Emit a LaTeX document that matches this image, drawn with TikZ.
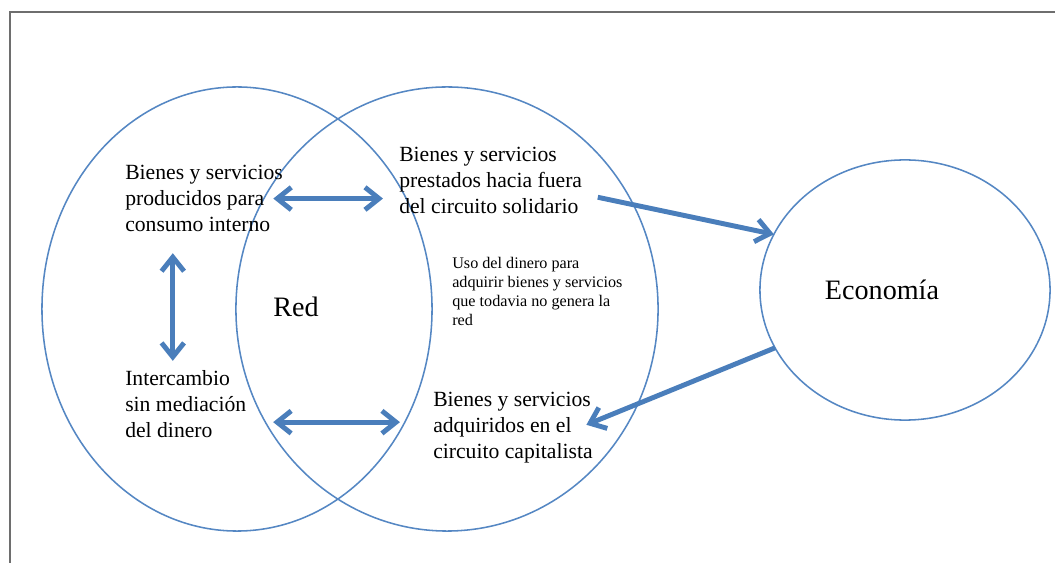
\documentclass[tikz,border=0pt]{standalone}
\usepackage{fontspec}
\setmainfont{Liberation Serif}
\usetikzlibrary{shapes.geometric,arrows.meta}

\definecolor{azul}{RGB}{85,135,195}
\definecolor{azulflecha}{RGB}{74,126,187}
\definecolor{marco}{RGB}{110,110,110}

\tikzstyle{circulo}=[ellipse,draw=azul,line width=1.1pt,inner sep=0pt,outer sep=0pt]
\tikzstyle{texto}=[align=left,anchor=north west,inner sep=0pt,font=\fontsize{15.4}{18.5}\selectfont]
\tikzstyle{textochico}=[align=left,anchor=north west,inner sep=0pt,font=\fontsize{11.5}{13.5}\selectfont]
\tikzstyle{grande}=[inner sep=0pt,font=\fontsize{20}{24}\selectfont]
\tikzstyle{flecha}=[draw=azulflecha,line width=3.5pt,>={Straight Barb[length=10pt,width=16pt]}]

\begin{document}
\begin{tikzpicture}[x=0.025cm,y=-0.025cm]
                  \useasboundingbox (0,0) rectangle (1055,563);
                  % frame, only top and left edges show
                  \draw[marco,line width=2pt] (10,563) -- (10,12) -- (1055,12);
                  % the three circles
                  \node[circulo,minimum width=277.4pt,minimum height=315.8pt] (izq) at (237,309) {};
                  \node[circulo,minimum width=300.2pt,minimum height=315.8pt] (centro) at (447,309) {};
                  \node[circulo,minimum width=206.3pt,minimum height=185pt] (economia) at (905,290) {};
                  % texts
                  \node[grande] (red) at (296,307) {Red};
                  \node[grande] (ecotexto) at (882,290) {Economía};
                  \node[texto] (prodint) at (125,165) {Bienes y servicios\\producidos para\\consumo interno};
                  \node[texto] (prestados) at (399,147) {Bienes y servicios\\prestados hacia fuera\\del circuito solidario};
                  \node[textochico] (uso) at (452,257) {Uso del dinero para\\adquirir bienes y servicios\\que todavia no genera la\\red};
                  \node[texto] (intercambio) at (125,370) {Intercambio\\sin mediación\\del dinero};
                  \node[texto] (adquiridos) at (433,392) {Bienes y servicios\\adquiridos en el\\circuito capitalista};
                  % arrows between the texts
                  \draw[flecha,<->,shorten <=-7pt,shorten >=11.4pt] (prodint.east) -- (prodint.east -| prestados.west);
                  \draw[flecha,<->,shorten <=15pt,shorten >=6.5pt] ([xshift=34pt]prodint.south west) -- ([xshift=34pt]intercambio.north west);
                  \draw[flecha,<->,shorten <=19pt,shorten >=23.5pt] ([yshift=4pt]adquiridos.west -| intercambio.east) -- ([yshift=4pt]adquiridos.west);
                  \draw[flecha,->] ([xshift=11pt,yshift=12pt]prestados.south east) -- (economia.157);
                  \draw[flecha,->,shorten >=-5pt] (economia.204) -- ([yshift=4pt]adquiridos.east);
\end{tikzpicture}
\end{document}
